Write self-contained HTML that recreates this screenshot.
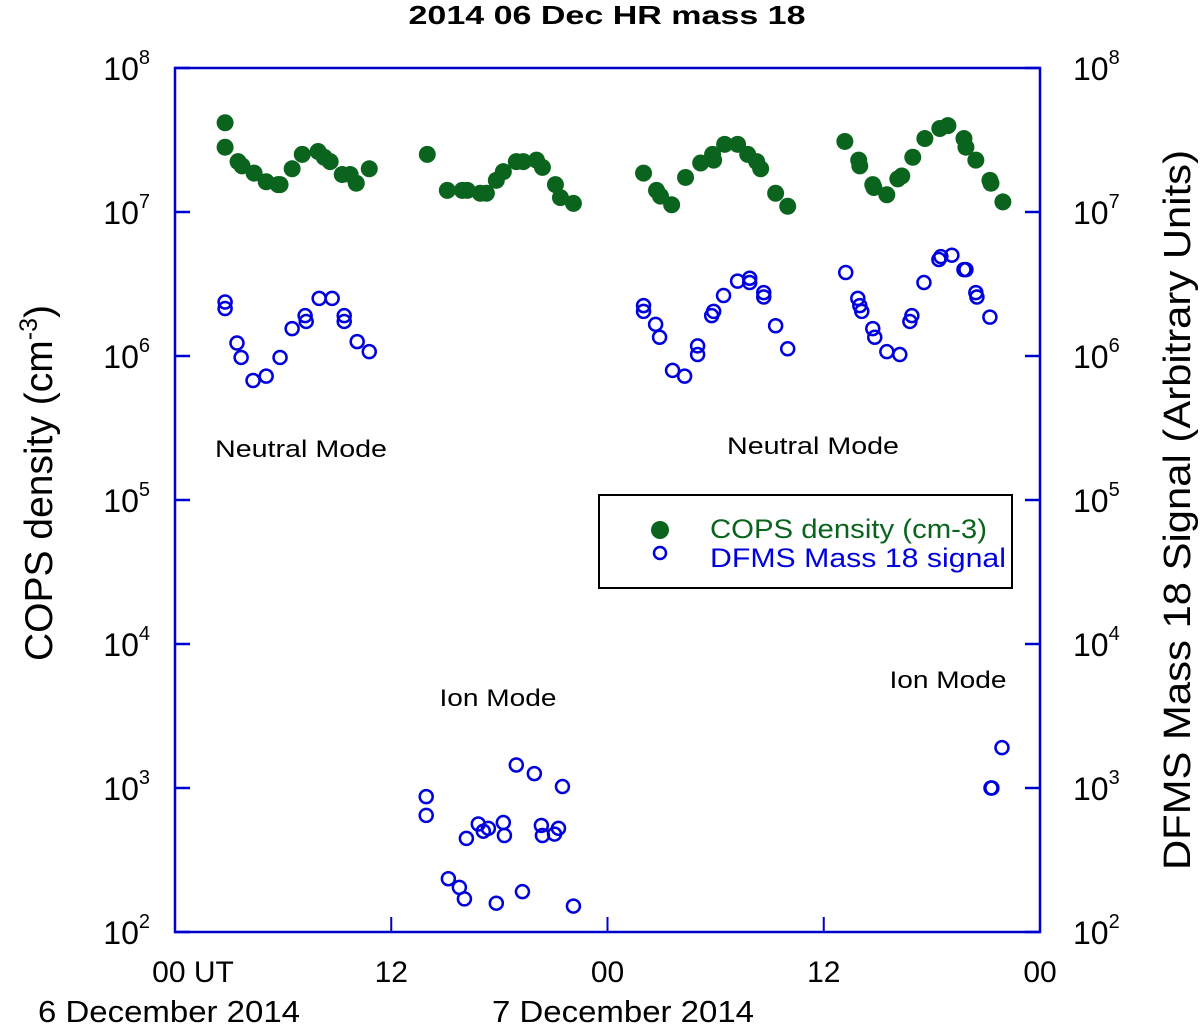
<!DOCTYPE html>
<html><head><meta charset="utf-8"><style>
body{margin:0;background:#fff;}
svg text{font-family:"Liberation Sans",sans-serif;}
</style></head><body>
<svg id="chart" width="1200" height="1025" viewBox="0 0 1200 1025" xmlns="http://www.w3.org/2000/svg">
<text x="607" y="24" text-anchor="middle" font-size="26" font-weight="bold" textLength="397" lengthAdjust="spacingAndGlyphs">2014 06 Dec HR mass 18</text>
<g id="axes"></g>
<g id="marks"></g>
<text transform="translate(52,483) rotate(-90)" text-anchor="middle" font-size="39">COPS density (cm<tspan dy="-15" font-size="25">-3</tspan><tspan dy="15">)</tspan></text>
<text transform="translate(1190,510) rotate(-90)" text-anchor="middle" font-size="38" textLength="720" lengthAdjust="spacingAndGlyphs">DFMS Mass 18 Signal (Arbitrary Units)</text>
<text x="301" y="457" text-anchor="middle" font-size="24" textLength="172" lengthAdjust="spacingAndGlyphs">Neutral Mode</text>
<text x="813" y="454" text-anchor="middle" font-size="24" textLength="172" lengthAdjust="spacingAndGlyphs">Neutral Mode</text>
<text x="498" y="706" text-anchor="middle" font-size="24" textLength="117" lengthAdjust="spacingAndGlyphs">Ion Mode</text>
<text x="948" y="688" text-anchor="middle" font-size="24" textLength="117" lengthAdjust="spacingAndGlyphs">Ion Mode</text>
<text x="169" y="1022" text-anchor="middle" font-size="31" textLength="262" lengthAdjust="spacingAndGlyphs">6 December 2014</text>
<text x="623" y="1022" text-anchor="middle" font-size="31" textLength="262" lengthAdjust="spacingAndGlyphs">7 December 2014</text>
<g>
<rect x="599" y="495" width="413" height="93" fill="#fff" stroke="#000" stroke-width="2"/>
<circle cx="660" cy="530" r="9" fill="#0b641e"/>
<circle cx="660" cy="553" r="6" fill="none" stroke="#0000dd" stroke-width="2.5"/>
<text x="710" y="538" font-size="27" fill="#0b641e" textLength="277" lengthAdjust="spacingAndGlyphs">COPS density (cm-3)</text>
<text x="710" y="567" font-size="27" fill="#0000dd" textLength="296" lengthAdjust="spacingAndGlyphs">DFMS Mass 18 signal</text>
</g>
</svg>
<script>
const copsHours=[2.78,2.78,3.5,3.72,4.39,5.06,5.83,5.72,6.5,7.06,7.94,8.28,8.61,9.28,9.72,10.06,10.78,
14.0,15.11,15.94,16.22,16.94,17.28,17.83,18.22,18.94,19.33,20.06,20.39,21.11,21.39,22.11,
26.0,26.72,26.94,27.56,28.33,29.17,29.83,29.89,30.5,31.22,31.78,32.28,32.5,33.33,34.0,
37.17,37.94,38.0,38.72,38.78,39.5,40.11,40.33,40.94,41.61,42.44,42.89,43.78,43.89,44.44,45.22,45.28,45.94];
const copsLog=[7.62,7.45,7.35,7.32,7.27,7.21,7.19,7.19,7.30,7.40,7.42,7.38,7.35,7.26,7.26,7.20,7.30,
7.40,7.15,7.15,7.15,7.13,7.13,7.22,7.28,7.35,7.35,7.36,7.31,7.19,7.10,7.06,
7.27,7.15,7.11,7.05,7.24,7.34,7.40,7.36,7.47,7.47,7.40,7.35,7.30,7.13,7.04,
7.49,7.36,7.32,7.19,7.17,7.12,7.23,7.25,7.38,7.51,7.58,7.60,7.51,7.45,7.36,7.22,7.20,7.07];
const dfmsHours=[2.78,2.78,3.44,3.67,4.33,5.06,5.83,6.5,7.22,7.28,8.0,8.72,9.39,9.39,10.11,10.78,
26.0,26.0,26.67,26.89,27.61,28.28,29.0,29.0,29.78,29.89,30.44,31.22,31.89,31.89,32.67,32.67,33.33,34.0,
37.22,37.89,38.0,38.11,38.72,38.83,39.5,40.22,40.78,40.89,41.56,42.39,42.5,43.11,43.78,43.89,44.44,44.5,45.22,
13.94,13.94,15.17,15.78,16.06,16.17,16.83,17.11,17.39,18.22,18.28,17.83,18.94,19.28,19.94,20.33,20.39,21.06,21.28,21.5,22.11,
45.28,45.33,45.89];
const dfmsLog=[6.375,6.33,6.09,5.99,5.83,5.86,5.99,6.19,6.28,6.24,6.40,6.40,6.28,6.24,6.10,6.03,
6.35,6.31,6.22,6.13,5.90,5.86,6.07,6.01,6.28,6.31,6.42,6.52,6.54,6.51,6.44,6.41,6.21,6.05,
6.58,6.40,6.35,6.31,6.19,6.13,6.03,6.01,6.24,6.28,6.51,6.67,6.69,6.70,6.60,6.60,6.44,6.41,6.27,
2.94,2.81,2.37,2.31,2.23,2.65,2.75,2.70,2.72,2.76,2.67,2.20,3.16,2.28,3.10,2.74,2.67,2.68,2.72,3.01,2.18,
3.0,3.0,3.28];
const yTickExps=[2,3,4,5,6,7,8];
const xTickHours=[0,12,24,36,48];
const xTickLabels=["00 UT","12","00","12","00"];

const NS="http://www.w3.org/2000/svg";
const X0=175,X1=1040,Y0=932,Y1=68;
function xs(h){return X0+(h/48)*(X1-X0);}
function ys(l){return Y0-(l-2)/6*(Y0-Y1);}
const axes=document.getElementById('axes'),marks=document.getElementById('marks');
function mk(tag,attrs,parent){const e=document.createElementNS(NS,tag);for(const k in attrs)e.setAttribute(k,attrs[k]);parent.appendChild(e);return e;}
const frame=mk('rect',{x:X0,y:Y1,width:X1-X0,height:Y0-Y1,fill:'none',stroke:'#0000cc','stroke-width':2.5},axes);


yTickExps.forEach(e=>{
  const y=ys(e);
  const t1=mk('line',{x1:X0,x2:X0+15,y1:y,y2:y,stroke:'#0000cc','stroke-width':2.5},axes);
  
  
  const t2=mk('line',{x1:X1-15,x2:X1,y1:y,y2:y,stroke:'#0000cc','stroke-width':2.5},axes);
  
  
  const l=mk('text',{x:150,y:y+12,'text-anchor':'end','font-size':32},axes);
  l.innerHTML='10<tspan dy="-16" font-size="20">'+e+'</tspan>';
  
  
  const r=mk('text',{x:1073,y:y+12,'font-size':32},axes);
  r.innerHTML='10<tspan dy="-16" font-size="20">'+e+'</tspan>';
  
  
});
xTickHours.forEach((h,i)=>{
  const x=xs(h);
  if(i>0&&i<xTickHours.length-1){
    const t=mk('line',{x1:x,x2:x,y1:Y0,y2:Y0-15,stroke:'#0000cc','stroke-width':2},axes);
    
    
  }
  const l=mk('text',{x:i==0?x+18:x,y:982,'text-anchor':'middle','font-size':30},axes);
  l.textContent=xTickLabels[i];
  
  
});
copsHours.forEach((h,i)=>{
  const c=mk('circle',{cx:xs(h),cy:ys(copsLog[i]),r:8.5,fill:'#0b641e'},marks);
  
  
});
dfmsHours.forEach((h,i)=>{
  const c=mk('circle',{cx:xs(h),cy:ys(dfmsLog[i]),r:6.5,fill:'none',stroke:'#0000dd','stroke-width':2.5},marks);
  
  
});
</script>
</body></html>
